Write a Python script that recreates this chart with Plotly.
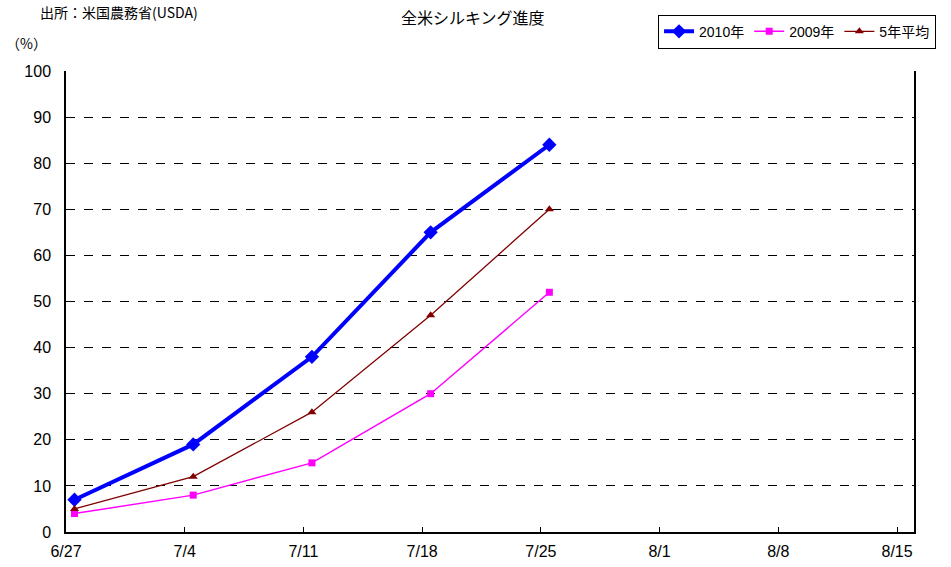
import plotly.graph_objects as go
import pandas as pd

dates = ["2010-06-27", "2010-07-04", "2010-07-11", "2010-07-18", "2010-07-25"]
tick_dates = ["2010-06-27", "2010-07-04", "2010-07-11", "2010-07-18", "2010-07-25",
              "2010-08-01", "2010-08-08", "2010-08-15"]
tick_labels = ["6/27", "7/4", "7/11", "7/18", "7/25", "8/1", "8/8", "8/15"]
y2010 = [7, 19, 38, 65, 84]
y2009 = [4, 8, 15, 30, 52]
y5avg = [5, 12, 26, 47, 70]

# points sit at the middle of each day (Excel date-axis style)
xs = [pd.Timestamp(d) + pd.Timedelta(hours=12) for d in dates]

FONT = "Liberation Sans, Arial, Noto Sans CJK JP, sans-serif"
JP = "Noto Sans CJK JP, sans-serif"

fig = go.Figure()
fig.add_trace(go.Scatter(x=xs, y=y2010, name="2010年", mode="lines+markers",
                         line=dict(color="#0000FF", width=4),
                         marker=dict(symbol="diamond", size=11, color="#0000FF")))
fig.add_trace(go.Scatter(x=xs, y=y2009, name="2009年", mode="lines+markers",
                         line=dict(color="#FF00FF", width=1.5),
                         marker=dict(symbol="square", size=7, color="#FF00FF")))
fig.add_trace(go.Scatter(x=xs, y=y5avg, name="5年平均", mode="lines+markers",
                         line=dict(color="#800000", width=1.3),
                         marker=dict(symbol="triangle-up", size=8, color="#800000")))

fig.update_layout(
    width=951, height=567,
    margin=dict(l=66, r=37, t=71, b=35, autoexpand=False),
    paper_bgcolor="white", plot_bgcolor="white",
    font=dict(family=FONT, size=16, color="black"),
    title=dict(text="全米シルキング進度", x=0.497, xanchor="center", y=0.967, yanchor="middle",
               font=dict(size=16, family=JP)),
    showlegend=True,
    legend=dict(orientation="h", x=1.026, xanchor="right", y=1.122, yanchor="top",
                bordercolor="black", borderwidth=1, bgcolor="white",
                font=dict(size=14, family=FONT), tracegroupgap=0),
    xaxis=dict(type="date", range=["2010-06-27", "2010-08-16"],
               tickvals=tick_dates, ticktext=tick_labels,
               showgrid=False, zeroline=False,
               showline=True, linecolor="black", linewidth=1.5,
               ticks="inside", ticklen=5, tickcolor="black",
               tickfont=dict(size=16), ticklabelstandoff=4),
    yaxis=dict(range=[0, 100], dtick=10, tick0=0,
               showgrid=True, gridcolor="black", griddash="dash", gridwidth=1,
               zeroline=False,
               showline=True, linecolor="black", linewidth=1.5, mirror=True,
               ticks="", tickfont=dict(size=16), ticklabelstandoff=10),
)

fig.add_annotation(text="出所：米国農務省(USDA)", xref="paper", yref="paper",
                   x=(38 - 66) / 848, y=(532 - 12) / 461, xanchor="left", yanchor="middle",
                   showarrow=False, font=dict(size=14, family=JP))
fig.add_annotation(text="（%）", xref="paper", yref="paper",
                   x=(4 - 66) / 848, y=(532 - 43) / 461, xanchor="left", yanchor="middle",
                   showarrow=False, font=dict(size=14, family=JP))

fig.write_html("out.html", config={"displayModeBar": False},
               post_script="document.body.style.margin='0';document.body.style.padding='0';")
